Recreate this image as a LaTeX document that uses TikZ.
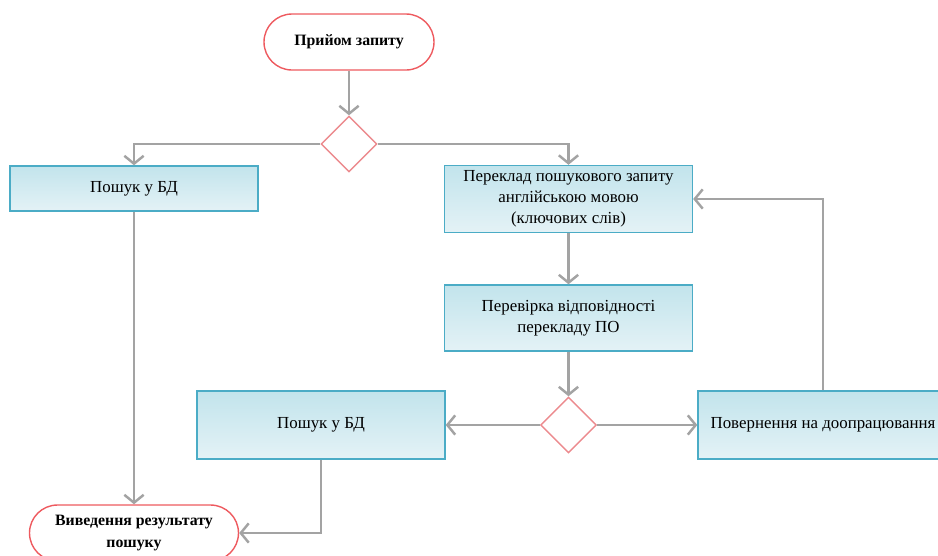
\documentclass[tikz,border=0pt]{standalone}
\usepackage{fontspec}
\setmainfont{Liberation Serif}
\definecolor{boxblue}{HTML}{4BACC6}
\definecolor{boxtop}{HTML}{C2E4EC}
\definecolor{boxbottom}{HTML}{E4F2F6}
\definecolor{termred}{HTML}{EE5A5F}
\definecolor{decred}{HTML}{EC8A8E}
\definecolor{linegray}{HTML}{A3A3A3}
\usetikzlibrary{arrows.meta, shapes.geometric, positioning}
\tikzset{
	termnode/.style={
			rectangle,
			rounded corners=0.56cm,
			draw=termred,
			thick,
			fill=white,
			minimum height=1.12cm,
			align=center,
			font=\fontsize{9}{12}\selectfont\bfseries
		},
	procnode/.style={
			rectangle,
			draw=boxblue,
			thick,
			top color=boxtop,
			bottom color=boxbottom,
			minimum width=4.96cm,
			align=center,
			inner sep=2pt,
			font=\fontsize{9.6}{12}\selectfont
		},
	decnode/.style={
			diamond,
			draw=decred,
			thick,
			fill=white,
			minimum width=1.12cm,
			minimum height=1.12cm,
			inner sep=0pt
		},
	flow/.style={
			draw=linegray,
			line width=1.4pt,
			-{Straight Barb[length=4.5pt,width=11pt]}
		}
}
\begin{document}
\begin{tikzpicture}
\useasboundingbox (0,0) rectangle (18.76,-11.1);
\clip (0,0) rectangle (18.76,-11.1);

\node[termnode, minimum width=3.4cm] (start) at (6.98,-0.84) {Прийом запиту};
\node[decnode] (dec1) at (6.98,-2.88) {};
\node[procnode, minimum height=0.9cm] (search1) at (2.68,-3.77) {Пошук у БД};
\node[procnode, minimum height=1.34cm] (transl) at (11.37,-3.98) {Переклад пошукового запиту\\англійською мовою\\(ключових слів)};
\node[procnode, minimum height=1.32cm] (check) at (11.37,-6.36) {Перевірка відповідності\\перекладу ПО};
\node[decnode] (dec2) at (11.37,-8.5) {};
\node[procnode, minimum height=1.36cm] (search2) at (6.42,-8.5) {Пошук у БД};
\node[procnode, minimum height=1.36cm, minimum width=5cm] (back) at (16.46,-8.5) {Повернення на доопрацювання};
\node[termnode, minimum width=4.18cm] (result) at (2.68,-10.66) {Виведення результату\\пошуку};

\draw[flow] (start) -- (dec1);
\draw[flow] (dec1.west) -| (search1.north);
\draw[flow] (dec1.east) -| (transl.north);
\draw[flow] (transl) -- (check);
\draw[flow] (check) -- (dec2);
\draw[flow] (dec2.west) -- (search2.east);
\draw[flow] (dec2.east) -- (back.west);
\draw[flow] (back.north) |- (transl.east);
\draw[flow] (search1) -- (result);
\draw[flow] (search2.south) |- (result.east);
\end{tikzpicture}
\end{document}
